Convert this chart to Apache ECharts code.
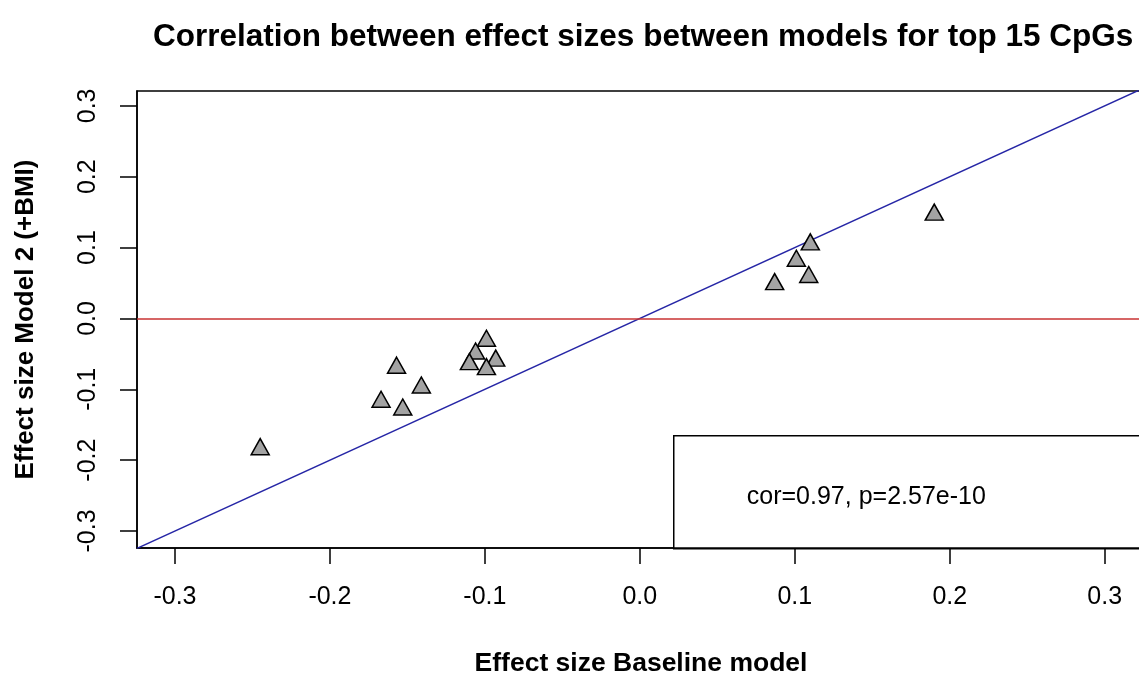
<!DOCTYPE html>
<html>
<head>
<meta charset="utf-8">
<script src="https://cdn.jsdelivr.net/npm/echarts@6/dist/echarts.min.js"></script>
<style>
  html, body { margin: 0; padding: 0; background: #fff; }
  #scatterContainer { width: 1139px; height: 675px; }
</style>
</head>
<body>
<div id="scatterContainer"></div>
<script>
// effect sizes of the top 15 CpGs
var baselineEffect = [-0.245, -0.167, -0.157, -0.153, -0.141, -0.099, -0.106, -0.110, -0.093, -0.099,
                      0.190, 0.110, 0.101, 0.109, 0.087];
var model2Effect   = [-0.181, -0.114, -0.066, -0.125, -0.094, -0.028, -0.046, -0.061, -0.056, -0.068,
                      0.150, 0.108, 0.085, 0.062, 0.052];
var tickValues = [-0.3, -0.2, -0.1, 0.0, 0.1, 0.2, 0.3];
var xRange = [-0.3245, 0.326];
var yRange = [-0.324, 0.321];
var corText = 'cor=0.97, p=2.57e-10';

var fontFamily = '"Liberation Sans", Arial, sans-serif';

var points = [];
for (var i = 0; i < baselineEffect.length; i++) {
    points.push([baselineEffect[i], model2Effect[i]]);
}

var myChart = echarts.init(document.getElementById('scatterContainer'));

var option = {
    animation: false,
    backgroundColor: '#fff',
    title: {
        text: 'Correlation between effect sizes between models for top 15 CpGs',
        left: 148,
        top: 16,
        textStyle: { fontFamily: fontFamily, fontSize: 31.5, fontWeight: 'bold', color: '#000' }
    },
    grid: {
        left: 137, top: 91, right: -6, bottom: 127,
        containLabel: false,
        outerBoundsMode: 'none',
        show: true, borderColor: '#000', borderWidth: 1.5
    },
    xAxis: {
        type: 'value',
        min: xRange[0],
        max: xRange[1],
        name: 'Effect size Baseline model',
        nameLocation: 'middle',
        nameGap: 102,
        nameTextStyle: { fontFamily: fontFamily, fontSize: 26.5, fontWeight: 'bold', color: '#000' },
        axisLine: { show: true, onZero: false, lineStyle: { color: '#000', width: 1.5 } },
        axisTick: { show: true, length: 16, customValues: tickValues, lineStyle: { color: '#000', width: 1.5 } },
        axisLabel: {
            customValues: tickValues,
            margin: 37,
            fontFamily: fontFamily,
            fontSize: 25,
            color: '#000',
            formatter: function (v) { return v.toFixed(1); }
        },
        splitLine: { show: false }
    },
    yAxis: {
        type: 'value',
        min: yRange[0],
        max: yRange[1],
        name: 'Effect size Model 2 (+BMI)',
        nameLocation: 'middle',
        nameGap: 98,
        nameRotate: 90,
        nameTextStyle: { fontFamily: fontFamily, fontSize: 26, fontWeight: 'bold', color: '#000' },
        axisLine: { show: true, onZero: false, lineStyle: { color: '#000', width: 1.5 } },
        axisTick: { show: true, length: 17, customValues: tickValues, lineStyle: { color: '#000', width: 1.5 } },
        axisLabel: {
            customValues: tickValues,
            margin: 36,
            rotate: 90,
            fontFamily: fontFamily,
            fontSize: 25,
            color: '#000',
            formatter: function (v) { return v.toFixed(1); }
        },
        splitLine: { show: false }
    },
    series: [
        {
            // abline(0, 1)
            type: 'line',
            data: [[xRange[0], xRange[0]], [xRange[1], xRange[1]]],
            showSymbol: false,
            silent: true,
            z: 1,
            lineStyle: { color: '#2626a6', width: 1.5 },
            markLine: {
                silent: true,
                symbol: ['none', 'none'],
                label: { show: false },
                lineStyle: { color: '#c83232', width: 1.5, type: 'solid' },
                data: [{ yAxis: 0 }]
            }
        },
        {
            type: 'scatter',
            data: points,
            symbol: 'triangle',
            symbolSize: [18, 16],
            z: 3,
            itemStyle: { color: '#a3a3a3', borderColor: '#000', borderWidth: 1.5, opacity: 1 }
        }
    ],
    graphic: [
        {
            // legend box in the lower right corner
            type: 'group',
            left: 673,
            top: 435,
            children: [
                {
                    type: 'rect',
                    shape: { x: 0, y: 0, width: 500, height: 113 },
                    style: { fill: '#fff', stroke: '#000', lineWidth: 1.5 }
                },
                {
                    type: 'text',
                    x: 73,
                    y: 61,
                    style: {
                        text: corText,
                        fontFamily: fontFamily,
                        fontSize: 25,
                        fill: '#000',
                        verticalAlign: 'middle'
                    }
                }
            ]
        }
    ]
};

myChart.setOption(option);
</script>
</body>
</html>
